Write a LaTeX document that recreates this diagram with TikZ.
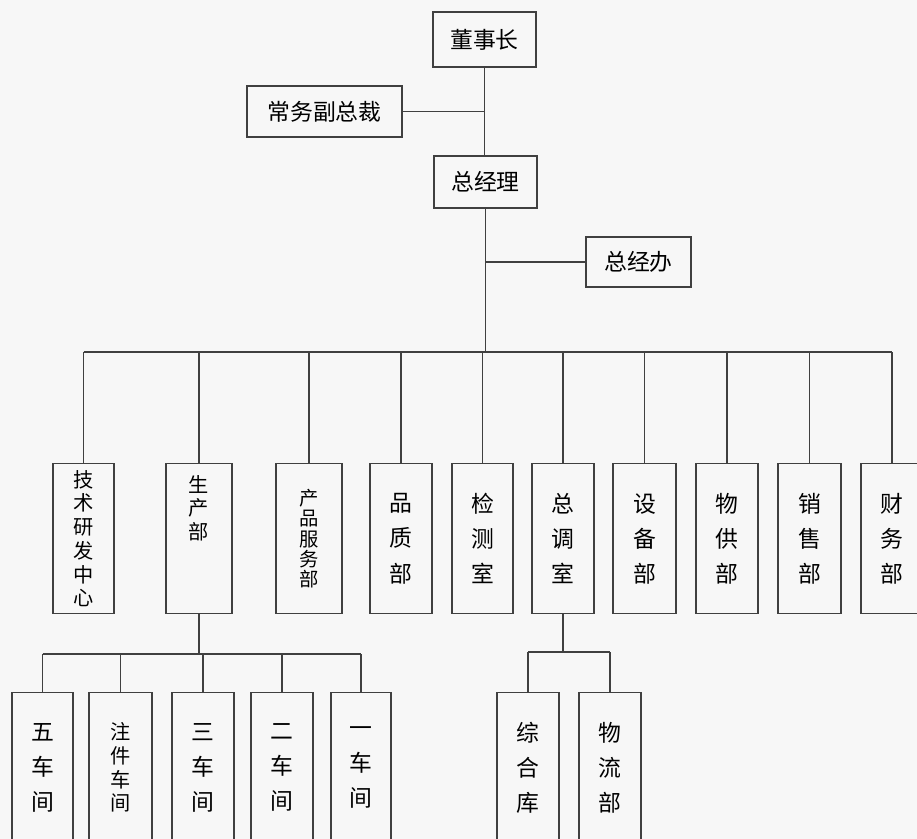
\documentclass[tikz,border=0pt]{standalone}
\usepackage{fontspec}
\setmainfont{Noto Sans CJK SC}
\begin{document}
\begin{tikzpicture}[x=0.02cm, y=-0.02cm,
    box/.style={draw=black!75, line width=0.8pt, text=black, inner sep=0pt, font=\fontsize{13}{15}\selectfont},
    colbox/.style={box, anchor=north, text width=1cm, align=center, minimum height=3cm, font=\fontsize{13}{20}\selectfont},
    tight/.style={font=\fontsize{11.5}{13.5}\selectfont},
    link/.style={draw=black!75, line width=0.8pt}]
    \useasboundingbox (0,0) rectangle (917,839);
    \clip (0,0) rectangle (917,839);
    \fill[black!3] (0,0) rectangle (917,839);
    % Direccion
    \node[box, minimum width=2.06cm, minimum height=1.1cm] (chair) at (484.5,39.5) {董事长};
    \node[box, minimum width=3.1cm, minimum height=1.02cm] (vp) at (324.5,111.5) {常务副总裁};
    \node[box, minimum width=2.06cm, minimum height=1.04cm] (gm) at (485.5,182) {总经理};
    \node[box, minimum width=2.1cm, minimum height=1cm] (office) at (638.5,262) {总经办};
    % Departamentos
    \node[colbox, tight, minimum width=1.22cm] (rd) at (83.5,463) {技\\术\\研\\发\\中\\心};
    \node[colbox, tight, minimum width=1.32cm, inner ysep=0.2cm, text depth=2.2cm] (prod) at (199,463) {生\\产\\部};
    \node[colbox, minimum width=1.32cm, font=\fontsize{11}{11.5}\selectfont] (svc) at (309,463) {产\\品\\服\\务\\部};
    \node[colbox, minimum width=1.24cm] (qa) at (401,463) {品\\质\\部};
    \node[colbox, minimum width=1.22cm] (test) at (482.5,463) {检\\测\\室};
    \node[colbox, minimum width=1.24cm] (disp) at (563,463) {总\\调\\室};
    \node[colbox, minimum width=1.26cm] (equip) at (644.5,463) {设\\备\\部};
    \node[colbox, minimum width=1.24cm] (supply) at (727,463) {物\\供\\部};
    \node[colbox, minimum width=1.26cm] (sales) at (809.5,463) {销\\售\\部};
    \node[colbox, minimum width=1.24cm] (fin) at (892,463) {财\\务\\部};
    % Talleres
    \node[colbox, minimum width=1.22cm] (ws5) at (42.5,692) {五\\车\\间};
    \node[colbox, tight, minimum width=1.26cm] (wsi) at (120.5,692) {注\\件\\车\\间};
    \node[colbox, minimum width=1.24cm] (ws3) at (203,692) {三\\车\\间};
    \node[colbox, minimum width=1.24cm] (ws2) at (282,692) {二\\车\\间};
    \node[colbox, minimum width=1.2cm] (ws1) at (361,692) {一\\车\\间};
    \node[colbox, minimum width=1.24cm] (store) at (528,692) {综\\合\\库};
    \node[colbox, minimum width=1.24cm] (logi) at (610,692) {物\\流\\部};
    % Lineas
    \coordinate (bus) at (482,352);
    \coordinate (wbus) at (202,654);
    \coordinate (sbus) at (567,652);
    \draw[link] (chair.south) -- (chair.south |- gm.north);
    \draw[link] (vp.east) -- (vp.east -| chair.south);
    \draw[link] (gm.south) -- (gm.south |- bus);
    \draw[link] (office.west) -- (office.west -| gm.south);
    \draw[link] (rd.north |- bus) -- (fin.north |- bus);
    \foreach \d in {rd,prod,svc,qa,test,disp,equip,supply,sales,fin}
        \draw[link] (\d.north) -- (\d.north |- bus);
    \draw[link] (prod.south) -- (prod.south |- wbus);
    \draw[link] (ws5.north |- wbus) -- (ws1.north |- wbus);
    \foreach \w in {ws5,wsi,ws3,ws2,ws1}
        \draw[link] (\w.north) -- (\w.north |- wbus);
    \draw[link] (disp.south) -- (disp.south |- sbus);
    \draw[link] (store.north |- sbus) -- (logi.north |- sbus);
    \foreach \s in {store,logi}
        \draw[link] (\s.north) -- (\s.north |- sbus);
\end{tikzpicture}
\end{document}
